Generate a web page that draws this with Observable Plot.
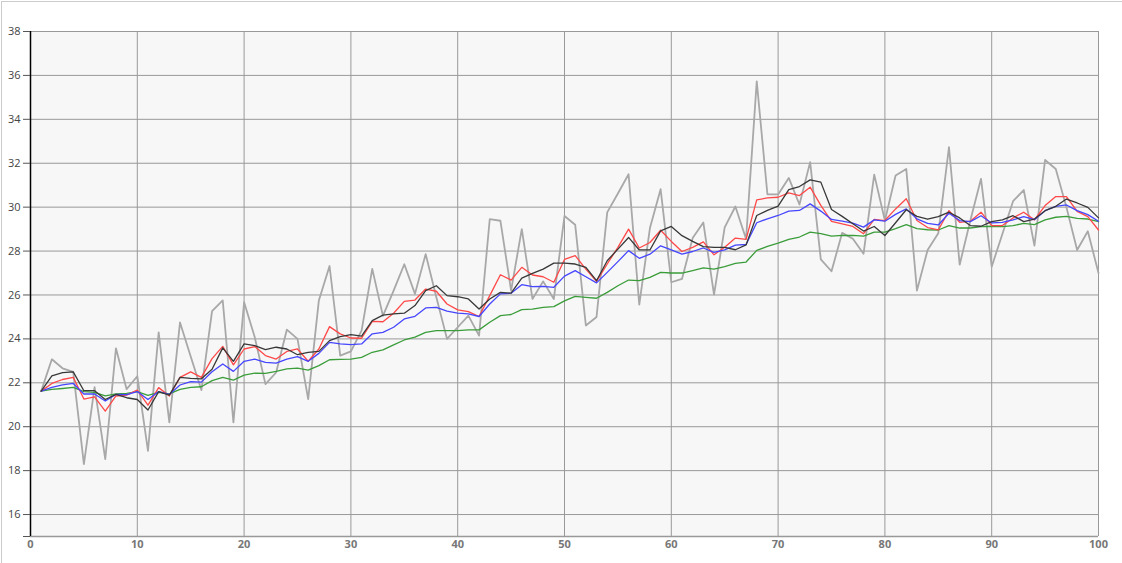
<!DOCTYPE html>
<html>
<head>
<meta charset="utf-8">
<script src="https://cdn.jsdelivr.net/npm/d3@7"></script>
<script src="https://cdn.jsdelivr.net/npm/@observablehq/plot@0.6"></script>
<style>
  html, body { margin: 0; padding: 0; background: #fff; overflow: hidden; }
  #frame { position: absolute; left: 1px; top: 1px; width: 1130px; height: 600px; border: 1px solid #ccc; box-sizing: border-box; }
  #chart { position: absolute; left: 0; top: 0; }
  #chart svg { display: block; }
</style>
</head>
<body>
<div id="frame"></div>
<div id="chart"></div>
<script>
const xs = d3.range(1, 101);

const raw = [21.62,23.07,22.66,22.5,18.3,21.8,18.52,23.57,21.71,22.3,
18.9,24.3,20.2,24.75,23.2,21.67,25.26,25.75,20.2,25.67,
24.07,21.94,22.47,24.42,24.0,21.26,25.75,27.32,23.24,23.43,
24.38,27.19,25.05,26.2,27.4,26.05,27.86,25.9,24.0,24.53,
25.06,24.15,29.45,29.38,26.2,29.0,25.82,26.62,25.82,29.6,
29.2,24.61,25.0,29.76,30.62,31.5,25.56,29.05,30.82,26.58,
26.73,28.59,29.3,26.02,29.08,30.03,28.55,35.73,30.58,30.58,
31.33,30.12,32.05,27.62,27.08,28.83,28.56,27.88,31.48,29.39,
31.44,31.74,26.2,28.05,28.81,32.73,27.38,29.39,31.29,27.29,
28.78,30.27,30.78,28.25,32.15,31.74,29.99,28.05,28.9,27.0];

const dark = [21.62,22.32,22.46,22.5,21.64,21.64,21.24,21.47,21.32,21.24,
20.76,21.6,21.44,22.25,22.2,22.18,22.62,23.59,22.98,23.77,
23.69,23.51,23.62,23.54,23.28,23.39,23.43,23.92,24.1,24.19,
24.13,24.83,25.08,25.14,25.17,25.52,26.2,26.42,25.97,25.92,
25.82,25.36,25.82,26.12,26.08,26.77,26.98,27.18,27.45,27.45,
27.41,27.26,26.65,27.56,28.09,28.62,28.05,28.05,28.92,29.12,
28.7,28.44,28.2,28.17,28.17,28.06,28.28,29.62,29.85,30.05,
30.8,30.94,31.24,31.14,29.89,29.58,29.24,28.91,29.12,28.71,
29.29,29.88,29.58,29.45,29.57,29.77,29.51,29.16,29.13,29.34,
29.42,29.61,29.34,29.46,29.84,30.04,30.37,30.19,29.99,29.51];

const red = [21.62,21.97,22.15,22.25,21.26,21.36,20.71,21.4,21.44,21.67,
20.98,21.78,21.4,22.25,22.5,22.25,23.1,23.66,22.82,23.54,
23.65,23.24,23.08,23.43,23.54,22.98,23.54,24.56,24.23,24.04,
24.03,24.8,24.78,25.17,25.71,25.77,26.27,26.17,25.59,25.32,
25.24,25.02,25.97,26.92,26.68,27.26,26.91,26.83,26.58,27.62,
27.79,27.18,26.62,27.41,28.17,29.0,28.14,28.39,28.95,28.44,
27.98,28.17,28.42,27.83,28.17,28.59,28.53,30.33,30.42,30.45,
30.65,30.53,30.91,30.08,29.35,29.24,29.12,28.79,29.44,29.39,
29.92,30.38,29.39,29.07,28.96,29.84,29.31,29.36,29.77,29.16,
29.16,29.51,29.77,29.42,30.07,30.48,30.48,29.81,29.57,28.96];

const blue = [21.62,21.79,21.91,21.97,21.49,21.49,21.17,21.47,21.46,21.6,
21.24,21.6,21.47,21.9,22.05,22.03,22.5,22.86,22.52,22.98,
23.08,22.93,22.9,23.08,23.19,22.98,23.34,23.84,23.77,23.74,
23.77,24.23,24.3,24.53,24.91,25.03,25.41,25.44,25.26,25.17,
25.14,25.02,25.59,26.05,26.08,26.47,26.38,26.39,26.35,26.86,
27.11,26.83,26.55,27.03,27.52,28.02,27.67,27.86,28.24,28.05,
27.86,27.98,28.14,27.94,28.05,28.27,28.3,29.29,29.47,29.62,
29.82,29.85,30.15,29.82,29.44,29.36,29.27,29.09,29.42,29.36,
29.67,29.92,29.47,29.26,29.19,29.72,29.39,29.34,29.61,29.28,
29.31,29.42,29.57,29.43,29.84,30.04,30.1,29.84,29.66,29.36];

const green = [21.62,21.7,21.74,21.79,21.6,21.56,21.4,21.5,21.52,21.6,
21.43,21.56,21.5,21.7,21.79,21.82,22.1,22.25,22.12,22.35,
22.44,22.43,22.52,22.63,22.67,22.58,22.78,23.05,23.07,23.08,
23.16,23.39,23.5,23.73,23.95,24.08,24.3,24.38,24.38,24.38,
24.41,24.41,24.76,25.06,25.11,25.33,25.36,25.44,25.47,25.73,
25.94,25.89,25.85,26.12,26.42,26.68,26.65,26.8,27.03,27.0,
27.0,27.11,27.23,27.18,27.29,27.44,27.5,28.03,28.21,28.36,
28.53,28.64,28.86,28.79,28.68,28.71,28.71,28.68,28.86,28.86,
29.02,29.2,29.02,28.97,28.96,29.16,29.05,29.05,29.11,29.13,
29.11,29.16,29.26,29.2,29.42,29.54,29.58,29.49,29.46,29.34];

const xTicks = [0,10,20,30,40,50,60,70,80,90,100];
const yTicks = [16,18,20,22,24,26,28,30,32,34,36,38];

const mk = (arr) => xs.map((x, i) => ({x, y: arr[i]}));

const chart = Plot.plot({
  width: 1122,
  height: 563,
  marginLeft: 30,
  marginRight: 24,
  marginTop: 31,
  marginBottom: 27,
  style: {fontFamily: "'Open Sans', sans-serif", fontSize: "11px", background: "transparent"},
  x: {domain: [0, 100], label: null},
  y: {domain: [15, 38], label: null},
  marks: [
    Plot.frame({fill: "#f7f7f7", stroke: null}),
    Plot.gridX(xTicks, {stroke: "#999", strokeOpacity: 1, strokeWidth: 1}),
    Plot.gridY(yTicks, {stroke: "#999", strokeOpacity: 1, strokeWidth: 1}),
    Plot.ruleY([15], {stroke: "#999", strokeWidth: 1.5}),
    Plot.line(mk(raw), {x: "x", y: "y", stroke: "#a8a8a8", strokeWidth: 1.8}),
    Plot.line(mk(green), {x: "x", y: "y", stroke: "#3a9d3a", strokeWidth: 1.3}),
    Plot.line(mk(red), {x: "x", y: "y", stroke: "#ff4848", strokeWidth: 1.3}),
    Plot.line(mk(blue), {x: "x", y: "y", stroke: "#4646ff", strokeWidth: 1.3}),
    Plot.line(mk(dark), {x: "x", y: "y", stroke: "#383838", strokeWidth: 1.3}),
    Plot.ruleX([0], {stroke: "#000", strokeWidth: 1.5}),
    Plot.axisY([15, ...yTicks], {tickSize: 7, tickPadding: 3, stroke: "#555", fill: "#444", label: null,
      tickFormat: d => d === 15 ? "" : String(d)}),
    Plot.axisX(xTicks, {tickSize: 0, tickPadding: 4, fill: "#777", fontWeight: "bold", label: null})
  ]
});
document.getElementById("chart").appendChild(chart);
</script>
</body>
</html>
